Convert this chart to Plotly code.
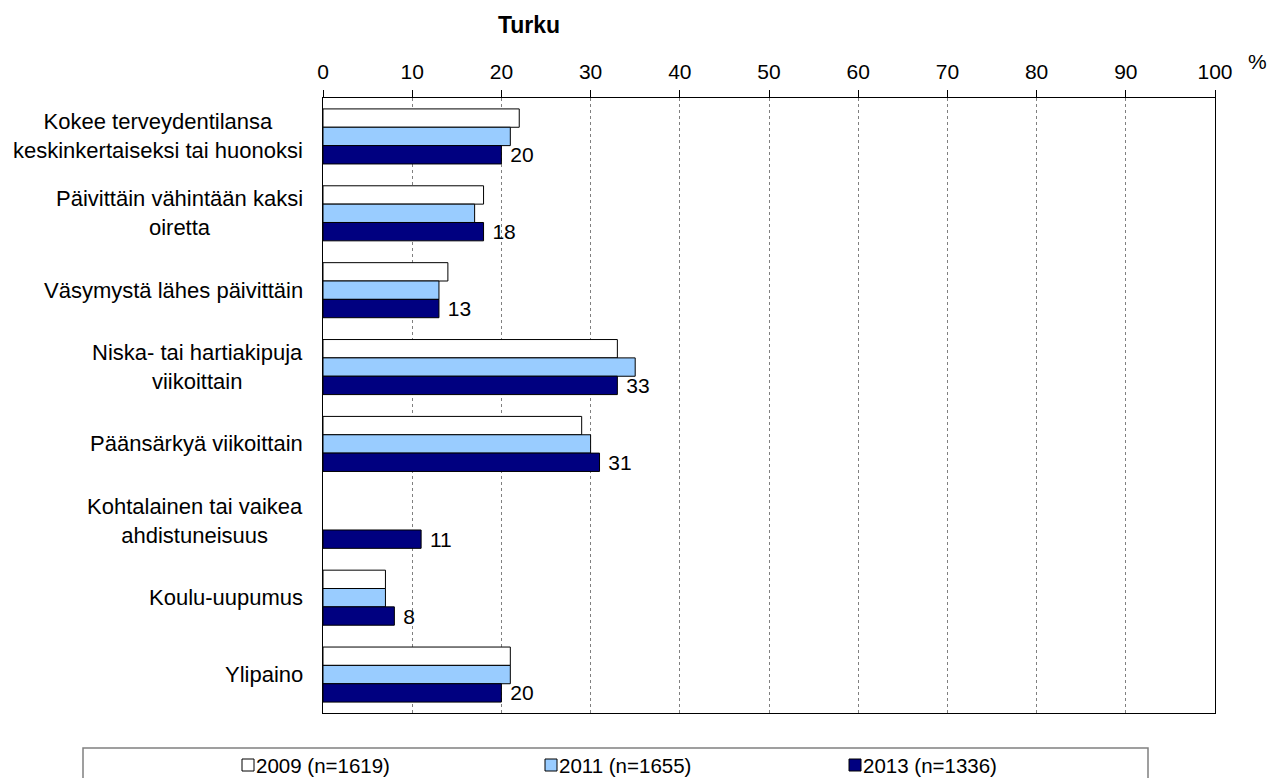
import plotly.graph_objects as go

categories = [
    "Kokee terveydentilansa<br>keskinkertaiseksi tai huonoksi",
    "Päivittäin vähintään kaksi<br>oiretta",
    "Väsymystä lähes päivittäin",
    "Niska- tai hartiakipuja<br>viikoittain",
    "Päänsärkyä viikoittain",
    "Kohtalainen tai vaikea<br>ahdistuneisuus",
    "Koulu-uupumus",
    "Ylipaino",
]
v2009 = [22, 18, 14, 33, 29, None, 7, 21]
v2011 = [21, 17, 13, 35, 30, None, 7, 21]
v2013 = [20, 18, 13, 33, 31, 11, 8, 20]
series_names = ["2009 (n=1619)", "2011 (n=1655)", "2013 (n=1336)"]
series_colors = ["#FFFFFF", "#99CCFF", "#000080"]
x_ticks = list(range(0, 101, 10))
title_text = "Turku"

W, H = 1277, 778
L, R, T, B = 323, 62, 98, 65
PW, PH = W - L - R, H - T - B

def px2x(px):
    return (px - L) / PW

def py2y(py):
    return (H - B - py) / PH

FONT = "Arial, Liberation Sans, sans-serif"

fig = go.Figure()
for name, vals, col in zip(series_names, [v2009, v2011, v2013], series_colors):
    is_last = name == series_names[-1]
    fig.add_trace(go.Bar(
        y=categories, x=vals, name=name, orientation="h",
        marker=dict(color=col, line=dict(color="#000000", width=1)),
        text=[("\u00a0" + str(v)) if (is_last and v is not None) else "" for v in vals],
        textposition="outside" if is_last else "none",
        textfont=dict(family=FONT, size=21, color="#000000"),
        constraintext="none",
        cliponaxis=False,
        showlegend=False,
        hoverinfo="x+name",
    ))

annotations = []
# category labels (centered multi-line, right-aligned block)
for c in categories:
    annotations.append(dict(
        x=px2x(305), xref="paper", y=c, yref="y",
        text=c, showarrow=False, xanchor="right", yanchor="middle",
        align="center", font=dict(family=FONT, size=22, color="#000000"),
    ))
# percent sign
annotations.append(dict(
    x=px2x(1257), xref="paper", y=py2y(62), yref="paper",
    text="%", showarrow=False, xanchor="center", yanchor="middle",
    font=dict(family=FONT, size=21, color="#000000"),
))

shapes = []
# legend box
shapes.append(dict(type="rect", xref="paper", yref="paper",
                   x0=px2x(83), x1=px2x(1148), y0=py2y(800), y1=py2y(748),
                   line=dict(color="#808080", width=1.5), fillcolor="#FFFFFF", layer="above"))
legend_x = [242, 545, 849]
for lx, name, col in zip(legend_x, series_names, series_colors):
    shapes.append(dict(type="rect", xref="paper", yref="paper",
                       x0=px2x(lx), x1=px2x(lx + 12), y0=py2y(771), y1=py2y(759),
                       line=dict(color="#000000", width=1), fillcolor=col, layer="above"))
    annotations.append(dict(
        x=px2x(lx + 12), xref="paper", y=py2y(765), yref="paper",
        text=name, showarrow=False, xanchor="left", yanchor="middle",
        font=dict(family=FONT, size=20.5, color="#000000"),
    ))

fig.update_layout(
    width=W, height=H,
    margin=dict(l=L, r=R, t=T, b=B, pad=0),
    barmode="group", bargap=0.284, bargroupgap=0,
    plot_bgcolor="#FFFFFF", paper_bgcolor="#FFFFFF",
    font=dict(family=FONT, size=21, color="#000000"),
    title=dict(text="<b>" + title_text + "</b>", x=529 / W, xanchor="center",
               y=1 - 25 / H, yanchor="middle", xref="container", yref="container",
               font=dict(family=FONT, size=23, color="#000000")),
    xaxis=dict(side="top", range=[0, 100], tickvals=x_ticks, ticktext=[str(t) for t in x_ticks],
               showgrid=True, gridcolor="#808080", griddash="dot", gridwidth=1,
               showline=True, linecolor="#000000", linewidth=1, mirror=True,
               ticks="outside", ticklen=7, tickcolor="#000000", tickwidth=1,
               ticklabelstandoff=3, zeroline=False,
               tickfont=dict(family=FONT, size=21, color="#000000")),
    yaxis=dict(type="category", autorange="reversed", showticklabels=False,
               showline=True, linecolor="#000000", linewidth=1, mirror=True,
               showgrid=False, ticks=""),
    annotations=annotations, shapes=shapes,
)

fig.write_html("out.html", config={"displayModeBar": False},
               post_script="document.body.style.margin='0';document.body.style.padding='0';")
